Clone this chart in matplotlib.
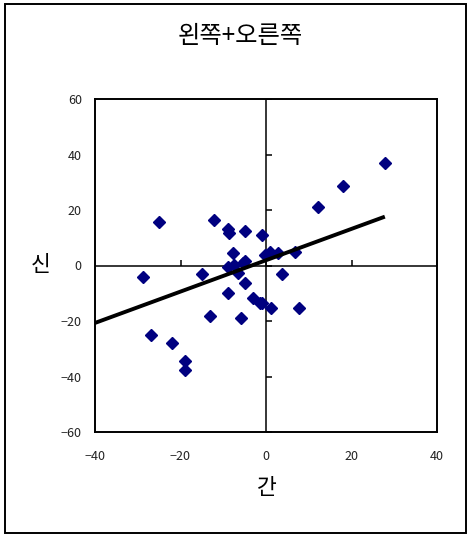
import numpy as np
import matplotlib
matplotlib.use("Agg")
import matplotlib.pyplot as plt
from matplotlib.patches import Rectangle

plt.rcParams['font.family'] = ['Noto Sans CJK KR', 'DejaVu Sans']
plt.rcParams['axes.unicode_minus'] = True

# ======================================
# Data
# ======================================

x_vals = [27.8, 18.1, 12.2, -25.0, -12.2, -8.9, -8.7, -4.9, -1.0, -7.8,
          -4.9, -0.2, -8.8, 0.9, 2.9, 6.8, 3.8, -28.7, -15.0, -7.6,
          -5.3, -6.5, -4.9, -8.8, -3.0, -1.4, -13.1, -5.8, -26.9, -21.9,
          -18.9, -18.9, 1.2, 7.8, -1.0]
y_vals = [36.8, 28.8, 21.2, 15.7, 16.4, 13.2, 11.8, 12.4, 11.0, 4.4,
          1.7, 3.8, -0.6, 5.0, 4.4, 5.0, -3.0, -4.0, -3.1, 0.2,
          0.8, -2.8, -6.4, -10.0, -11.8, -13.6, -18.2, -19.0, -25.0, -28.0,
          -34.3, -37.7, -15.4, -15.4, -13.6]

trend_x = [-40, 27.8]
trend_y = [-20.7, 17.6]

x_ticks = [-40, -20, 0, 20, 40]
y_ticks = [-60, -40, -20, 0, 20, 40, 60]

TITLE = "왼쪽+오른쪽"
X_LABEL = "간"
Y_LABEL = "신"

# ======================================
# Plot
# ======================================

W, H = 468, 534
fig = plt.figure(figsize=(W / 100, H / 100), dpi=100)
ax = fig.add_axes([95 / W, 1 - 432 / H, (437 - 95) / W, (432 - 99) / H])

ax.set_xlim(-40, 40)
ax.set_ylim(-60, 60)

# zero axes
ax.axhline(0, color="black", lw=1.1, zorder=1)
ax.axvline(0, color="black", lw=1.1, zorder=1)

# tick marks on the zero axes
ax.plot(x_ticks, [0] * len(x_ticks), ls="", marker=2, ms=4, mew=1.1,
        color="black", zorder=1)
ax.plot([0] * len(y_ticks), y_ticks, ls="", marker=1, ms=4, mew=1.1,
        color="black", zorder=1)

ax.plot(x_vals, y_vals, ls="", marker="D", ms=6.6, color="#000080",
        markeredgecolor="#000080", zorder=3, clip_on=False)
ax.plot(trend_x, trend_y, color="black", lw=2.8, zorder=4,
        solid_capstyle="butt")

ax.set_xticks(x_ticks)
ax.set_yticks(y_ticks)
ax.set_xticklabels([f"{t}".replace("-", "\u2212") for t in x_ticks])
ax.set_yticklabels([f"{t}".replace("-", "\u2212") for t in y_ticks])
ax.tick_params(length=0, labelsize=9, colors="#222222")
ax.tick_params(axis="x", pad=13)
ax.tick_params(axis="y", pad=9.5)

for s in ax.spines.values():
    s.set_linewidth(1.4)
    s.set_color("black")

fig.text(240 / W, 1 - 36 / H, TITLE, ha="center", va="center", fontsize=17.5)
fig.text(267 / W, 1 - 488 / H, X_LABEL, ha="center", va="center", fontsize=15.5)
fig.text(41 / W, 1 - 265 / H, Y_LABEL, ha="center", va="center", fontsize=15.5)

fig.patches.append(Rectangle((5 / W, 1 - 533 / H), 461 / W, 529 / H,
                             transform=fig.transFigure, fill=False,
                             lw=1.4, edgecolor="black"))

fig.savefig("out.png", dpi=100)
plt.close()
